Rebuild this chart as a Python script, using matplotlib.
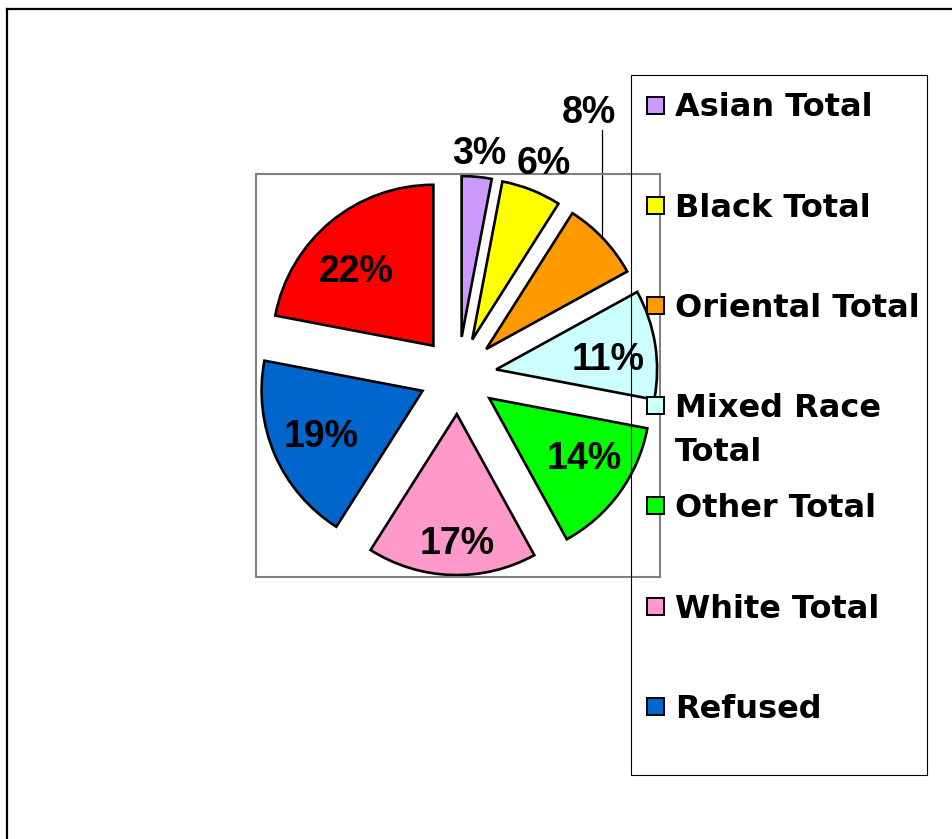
import numpy as np
import matplotlib

matplotlib.use('Agg')
import matplotlib.pyplot as plt
from matplotlib import font_manager as fm
from matplotlib.lines import Line2D
from matplotlib.patches import Rectangle

# data (percent of total, clockwise from 12 o'clock)
categories = ['Asian Total', 'Black Total', 'Oriental Total', 'Mixed Race\nTotal',
              'Other Total', 'White Total', 'Refused']
shares = [3, 6, 8, 11, 14, 17, 19, 22]
colors = ['#CC99FF', '#FFFF00', '#FF9900', '#CCFFFF', '#00FF00', '#FF99CC', '#0066CC', '#FF0000']

# label placement (radius units from each exploded wedge centre, extra turn in deg)
label_dist = [1.17, 1.20, 1.62, 0.70, 0.69, 0.78, 0.68, 0.68]
label_turn = [0, 0, 23.7, -2, 5, 2, -1, 5]

W, H = 953, 839


def px(x, y):
    # pixel coords (origin top-left) -> figure fraction
    return x / W, 1 - y / H


# Arial-like bold for the percentages (avoid the Narrow variant)
arial_bold = [f for f in fm.findSystemFonts() if f.endswith('LiberationSans-Bold.ttf')]
if arial_bold:
    pct_font = fm.FontProperties(fname=arial_bold[0], size=27)
else:
    pct_font = fm.FontProperties(family='DejaVu Sans', weight='bold', size=24)

fig = plt.figure(figsize=(W / 100, H / 100), dpi=100)

# plot area box
x0, y0 = px(256, 577)
ax = fig.add_axes([x0, y0, 404 / W, 403 / H])

wedges, _, texts = ax.pie(
    shares,
    colors=colors,
    startangle=90,
    counterclock=False,
    explode=[0.24] * len(shares),
    radius=1,
    frame=True,
    wedgeprops=dict(edgecolor='black', linewidth=1.9),
    autopct='%1.0f%%',
    pctdistance=0.7,
)

for i, (w, t) in enumerate(zip(wedges, texts)):
    ang = np.deg2rad((w.theta1 + w.theta2) / 2 + label_turn[i])
    cx, cy = w.center
    t.set_position((cx + label_dist[i] * np.cos(ang), cy + label_dist[i] * np.sin(ang)))
    t.set_verticalalignment('center_baseline')
    t.set_fontproperties(pct_font)
    t.set_color('black')

# leader line for the 8% label
w = wedges[2]
lx, ly = texts[2].get_position()
line_x = lx + 0.087
cx, cy = w.center
arc_y = cy + np.sqrt(1 - (line_x - cx) ** 2)
ax.plot([line_x, line_x], [ly - 0.13, arc_y], color='black', lw=0.9, clip_on=False)

ax.set_xlim(-1.255, 1.255)
ax.set_ylim(-1.252, 1.252)
ax.set_xticks([])
ax.set_yticks([])
for sp in ax.spines.values():
    sp.set_color('#808080')
    sp.set_linewidth(1.5)

# legend (drawn by hand, Excel style)
lx0, ly0 = px(631, 775)
fig.add_artist(Rectangle((lx0, ly0), 296 / W, 700 / H, transform=fig.transFigure,
                         facecolor='none', edgecolor='black', lw=0.8))
row_y = 105
for name, col in zip(categories, colors):
    mx, my = px(656 - 8.5, row_y + 8.5)
    fig.add_artist(Rectangle((mx, my), 17 / W, 17 / H, transform=fig.transFigure,
                             facecolor=col, edgecolor='black', lw=1.4))
    for k, line in enumerate(name.split('\n')):
        tx, ty = px(675, row_y + 11.5 + 44 * k)
        fig.text(tx, ty, line, ha='left', va='baseline', family='DejaVu Sans',
                 weight='bold', fontsize=23, color='black')
    row_y += 100.2

# outer chart border (top and left only visible)
fig.add_artist(Line2D([7 / W, 1], [1 - 9 / H, 1 - 9 / H], transform=fig.transFigure,
                      color='black', lw=1.6))
fig.add_artist(Line2D([7 / W, 7 / W], [0, 1 - 9 / H], transform=fig.transFigure,
                      color='black', lw=1.6))

plt.savefig('out.png', dpi=100)
